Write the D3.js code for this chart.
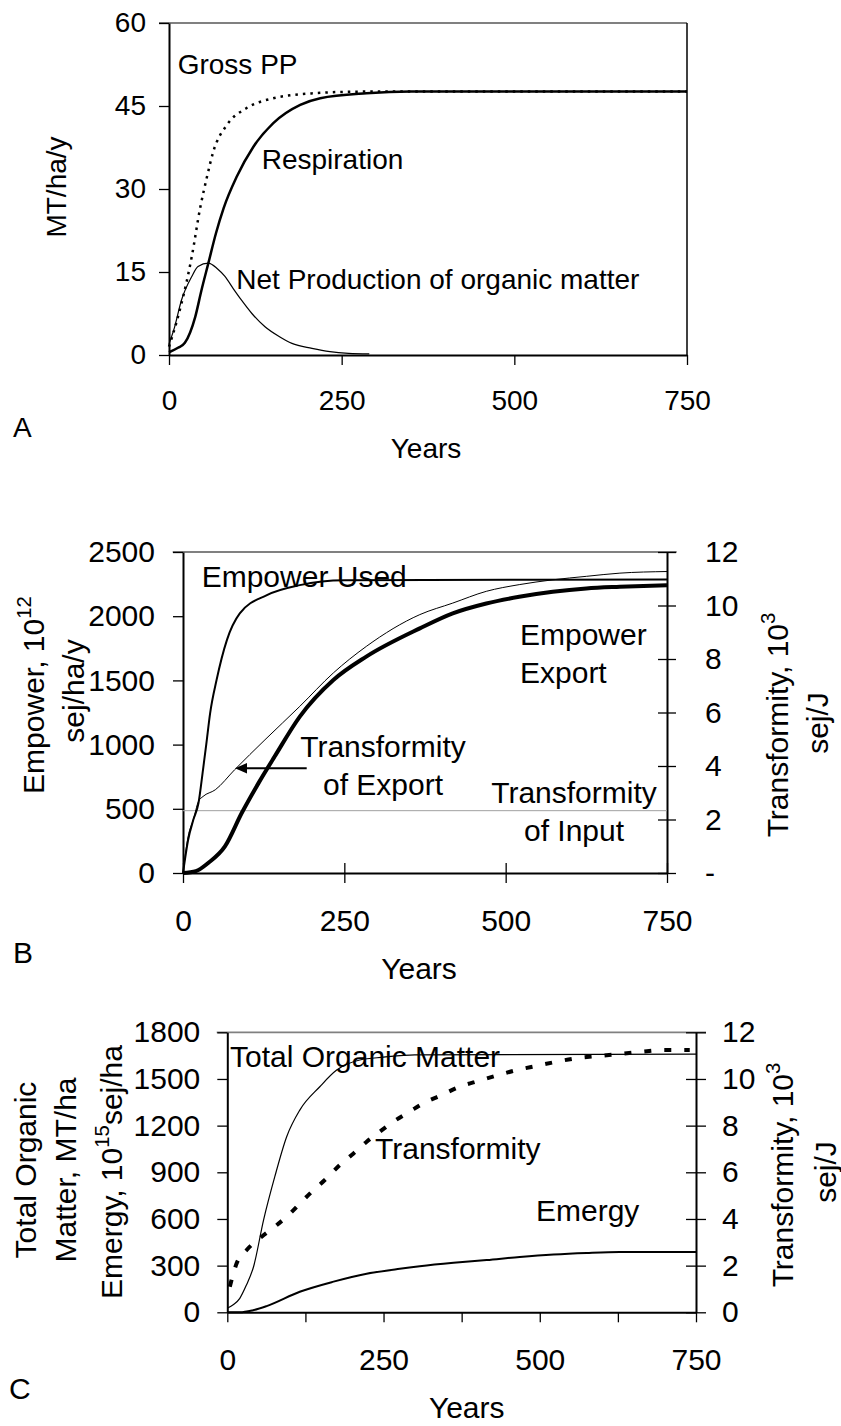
<!DOCTYPE html>
<html>
<head>
<meta charset="utf-8">
<script src="https://cdn.jsdelivr.net/npm/d3@7"></script>
<style>
  body { margin: 0; background: #fff; }
  svg { display: block; }
</style>
</head>
<body>
<div id="chart"></div>
<script>
// ---- panel A : production and respiration (MT/ha/y)
const gppYears = [0, 11, 18, 26, 33, 45, 55, 64, 84, 112, 151, 209, 280, 750];
const gppValues = [1.5, 6, 9.3, 13.5, 17.8, 26.5, 32.2, 36.7, 41.6, 44.6, 46.4, 47.3, 47.6, 47.6];
const respYears = [0, 13, 23, 38, 47, 57, 68, 79, 98, 122, 151, 190, 219, 286, 350, 750];
const respValues = [0.5, 1.3, 2.2, 6.9, 11.7, 16.6, 22, 26.5, 32.2, 37.6, 41.9, 45.2, 46.4, 47.3, 47.6, 47.6];
const netYears = [0, 8, 18, 33, 42, 57, 70, 81, 93, 105, 120, 139, 160, 178, 207, 233, 260, 290];
const netValues = [2, 5, 9.9, 14.2, 16, 16.6, 15.6, 14.2, 12, 9.9, 7.5, 5.1, 3.3, 2.1, 1.2, 0.6, 0.3, 0.2];
const ticksA = [0, 15, 30, 45, 60];

// ---- panel B : empower (left) and transformity (right)
const usedYears = [0, 8, 16, 24, 31, 36, 42, 52, 68, 88, 130, 181, 250, 750];
const usedValues = [0, 259, 414, 544, 804, 1000, 1244, 1503, 1814, 2022, 2164, 2242, 2280, 2285];
const exportYears = [0, 20, 39, 65, 91, 117, 142, 181, 233, 284, 367, 418, 470, 521, 573, 625, 677, 750];
const exportValues = [0, 15, 78, 207, 467, 700, 907, 1218, 1503, 1685, 1905, 2022, 2099, 2151, 2190, 2216, 2229, 2242];
const trExpYears = [0, 8, 16, 24, 31, 50, 80, 127, 181, 233, 284, 367, 418, 470, 521, 573, 625, 677, 750];
const trExpValues = [0, 1.37, 1.99, 2.68, 2.86, 3.11, 3.86, 4.98, 6.23, 7.48, 8.47, 9.66, 10.09, 10.53, 10.78, 10.96, 11.09, 11.21, 11.27];
const trInYears = [0, 750];
const trInValues = [2.33, 2.33];
const ticksBLeft = [0, 500, 1000, 1500, 2000, 2500];
const ticksBRight = [0, 2, 4, 6, 8, 10, 12];

// ---- panel C : storages
const tomYears = [0, 10, 20, 30, 42, 58, 76, 95, 116, 148, 175, 212, 250, 300, 750];
const tomValues = [26, 50, 90, 170, 293, 593, 872, 1129, 1300, 1450, 1557, 1622, 1640, 1655, 1660];
const trYears = [4, 15, 31, 55, 76, 98, 119, 138, 156, 180, 202, 223, 244, 268, 292, 314, 343, 372, 404, 434, 463, 495, 527, 559, 596, 628, 663, 698, 740];
const trValues = [1.1, 2.1, 2.67, 3.24, 3.67, 4.17, 4.74, 5.24, 5.67, 6.31, 6.81, 7.31, 7.74, 8.21, 8.6, 8.96, 9.31, 9.67, 9.93, 10.17, 10.38, 10.56, 10.74, 10.89, 10.99, 11.07, 11.17, 11.24, 11.24];
const emYears = [0, 20, 40, 63, 116, 170, 223, 276, 308, 362, 415, 468, 522, 575, 628, 750];
const emValues = [0, 0, 12, 40, 132, 197, 248, 280, 296, 318, 336, 356, 372, 382, 388, 388];
const ticksCLeft = [0, 300, 600, 900, 1200, 1500, 1800];
const ticksCRight = [0, 2, 4, 6, 8, 10, 12];

const xTicks = [0, 250, 500, 750];
const xTicksC = [0, 125, 250, 375, 500, 625, 750];

const svg = d3.select("#chart").append("svg")
  .attr("width", 841)
  .attr("height", 1426)
  .style("font-family", "'Liberation Sans', Arial, sans-serif");

const plain = d => String(d);

function styleAxis(g, size) {
  g.attr("font-size", size).attr("font-family", null);
  g.selectAll("text").attr("fill", "#000");
  g.selectAll(".tick line").attr("stroke", "#000").attr("stroke-width", 1.3);
  g.select(".domain").attr("stroke", "#000").attr("stroke-width", 2);
}

function drawLine(x, y, years, values, width, dash, color) {
  const line = d3.line()
    .x(d => x(d[0]))
    .y(d => y(d[1]))
    .curve(d3.curveMonotoneX);
  svg.append("path")
    .datum(d3.zip(years, values))
    .attr("d", line)
    .attr("fill", "none")
    .attr("stroke", color || "#000")
    .attr("stroke-width", width)
    .attr("stroke-dasharray", dash || null);
}

function label(x, y, str, size, anchor) {
  svg.append("text")
    .attr("x", x).attr("y", y)
    .attr("font-size", size)
    .attr("text-anchor", anchor || "start")
    .text(str);
}

// rotated label, parts: [text, isSuperscript]
function vlabel(x, y, parts, size) {
  const t = svg.append("text")
    .attr("transform", `translate(${x},${y}) rotate(-90)`)
    .attr("text-anchor", "middle")
    .attr("font-size", size);
  let up = false;
  parts.forEach(p => {
    const s = t.append("tspan").text(p[0]);
    if (p[1]) {
      s.attr("font-size", size * 0.68).attr("dy", -size * 0.42);
      up = true;
    } else if (up) {
      s.attr("dy", size * 0.42);
      up = false;
    }
  });
}

function frameTop(x1, x2, y) {
  svg.append("line")
    .attr("x1", x1).attr("x2", x2).attr("y1", y).attr("y2", y)
    .attr("stroke", "#808080").attr("stroke-width", 1.8);
}

// ================= A =================
const xA = d3.scaleLinear().domain([0, 750]).range([169, 687]);
const yA = d3.scaleLinear().domain([0, 60]).range([355, 23]);
const fA = 28;

frameTop(159, 687, yA(60));
svg.append("line")
  .attr("x1", xA(750)).attr("x2", xA(750)).attr("y1", yA(60)).attr("y2", yA(0))
  .attr("stroke", "#000").attr("stroke-width", 1.5);

svg.append("g")
  .attr("transform", `translate(${xA(0)},0)`)
  .call(d3.axisLeft(yA).tickValues(ticksA).tickSize(10).tickSizeOuter(0).tickPadding(13).tickFormat(plain))
  .call(g => styleAxis(g, fA));

svg.append("g")
  .attr("transform", `translate(0,${yA(0)})`)
  .call(d3.axisBottom(xA).tickValues(xTicks).tickSize(10).tickSizeOuter(0).tickPadding(25).tickFormat(plain))
  .call(g => styleAxis(g, fA));

drawLine(xA, yA, gppYears, gppValues, 2.5, "2.5,5");
drawLine(xA, yA, respYears, respValues, 2.5);
drawLine(xA, yA, netYears, netValues, 1.2);

label(177.7, 74, "Gross PP", fA);
label(261.7, 169.3, "Respiration", fA);
label(236.3, 288.7, "Net Production of organic matter", fA);
label(13, 437, "A", fA);
label(426, 458, "Years", fA, "middle");
vlabel(66, 187, [["MT/ha/y"]], fA);

// ================= B =================
const xB = d3.scaleLinear().domain([0, 750]).range([183, 667]);
const yB = d3.scaleLinear().domain([0, 2500]).range([873, 552]);
const yBR = d3.scaleLinear().domain([0, 12]).range([873, 552]);
const fB = 30;

frameTop(172.7, 676.7, yB(2500));

svg.append("g")
  .attr("transform", `translate(${xB(0)},0)`)
  .call(d3.axisLeft(yB).tickValues(ticksBLeft).tickSize(10).tickSizeOuter(0).tickPadding(18).tickFormat(plain))
  .call(g => styleAxis(g, fB));

svg.append("g")
  .attr("transform", `translate(${xB(750)},0)`)
  .call(d3.axisRight(yBR).tickValues(ticksBRight).tickSize(9).tickSizeOuter(0).tickPadding(29)
    .tickFormat(d => d === 0 ? "-" : String(d)))
  .call(g => styleAxis(g, fB))
  .call(g => g.selectAll(".tick line").attr("x1", -9));

svg.append("g")
  .attr("transform", `translate(0,${yB(0)})`)
  .call(d3.axisBottom(xB).tickValues(xTicks).tickSize(10).tickSizeOuter(0).tickPadding(27).tickFormat(plain))
  .call(g => styleAxis(g, fB))
  .call(g => g.selectAll(".tick line").attr("y1", -10));

drawLine(xB, yBR, trInYears, trInValues, 1, null, "#a0a0a0");
drawLine(xB, yB, usedYears, usedValues, 2);
drawLine(xB, yBR, trExpYears, trExpValues, 1);
drawLine(xB, yB, exportYears, exportValues, 4);

label(201.7, 587, "Empower Used", fB);
label(383, 756.7, "Transformity", fB, "middle");
label(383, 795, "of Export", fB, "middle");
label(520, 645, "Empower", fB);
label(520, 683.3, "Export", fB);
label(574, 802.5, "Transformity", fB, "middle");
label(574, 841, "of Input", fB, "middle");
label(13, 963, "B", fB);
label(419, 979, "Years", fB, "middle");

// arrow pointing at transformity of export
svg.append("line")
  .attr("x1", 306.7).attr("x2", 245).attr("y1", 768.3).attr("y2", 768.3)
  .attr("stroke", "#000").attr("stroke-width", 2);
svg.append("path")
  .attr("d", "M235,768.3 L247,763 L247,773.6 Z")
  .attr("fill", "#000");

vlabel(43.5, 695, [["Empower, 10"], ["12", true]], fB);
vlabel(84, 691, [["sej/ha/y"]], fB);
vlabel(788, 725, [["Transformity, 10"], ["3", true]], fB);
vlabel(828, 723, [["sej/J"]], fB);

// ================= C =================
const xC = d3.scaleLinear().domain([0, 750]).range([227.3, 696]);
const yC = d3.scaleLinear().domain([0, 1800]).range([1312.3, 1032.3]);
const yCR = d3.scaleLinear().domain([0, 12]).range([1312.3, 1032.3]);
const fC = 30;

frameTop(216.7, 706, yC(1800));

svg.append("g")
  .attr("transform", `translate(${xC(0)},0)`)
  .call(d3.axisLeft(yC).tickValues(ticksCLeft).tickSize(10).tickSizeOuter(0).tickPadding(17).tickFormat(plain))
  .call(g => styleAxis(g, fC));

svg.append("g")
  .attr("transform", `translate(${xC(750)},0)`)
  .call(d3.axisRight(yCR).tickValues(ticksCRight).tickSize(10).tickSizeOuter(0).tickPadding(16).tickFormat(plain))
  .call(g => styleAxis(g, fC))
  .call(g => g.selectAll(".tick line").attr("x1", -10));

svg.append("g")
  .attr("transform", `translate(0,${yC(0)})`)
  .call(d3.axisBottom(xC).tickValues(xTicksC).tickSize(10).tickSizeOuter(0).tickPadding(26)
    .tickFormat(d => xTicks.includes(d) ? String(d) : ""))
  .call(g => styleAxis(g, fC));

drawLine(xC, yC, tomYears, tomValues, 1.2);
drawLine(xC, yCR, trYears, trValues, 4, "7,13");
drawLine(xC, yC, emYears, emValues, 2);

label(230, 1066.7, "Total Organic Matter", fC);
label(375, 1159.3, "Transformity", fC);
label(536, 1220.5, "Emergy", fC);
label(9, 1399, "C", fC);
label(466.7, 1418, "Years", fC, "middle");

vlabel(35.5, 1170, [["Total Organic"]], fC);
vlabel(76, 1170, [["Matter, MT/ha"]], fC);
vlabel(122, 1172, [["Emergy, 10"], ["15", true], ["sej/ha"]], fC);
vlabel(793, 1175, [["Transformity, 10"], ["3", true]], fC);
vlabel(836, 1172, [["sej/J"]], fC);
</script>
</body>
</html>
